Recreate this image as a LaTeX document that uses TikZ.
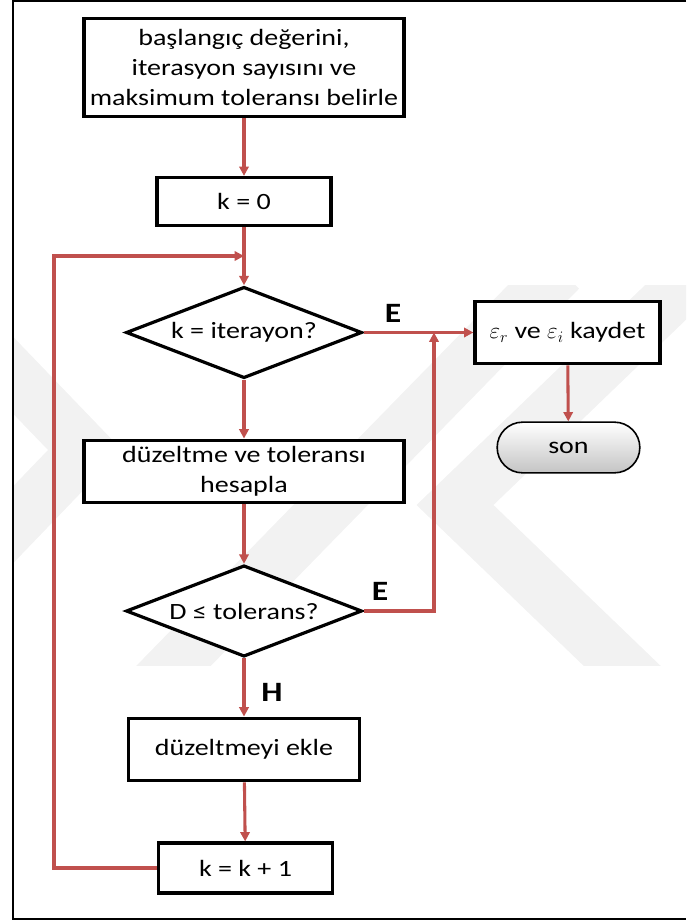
\documentclass[tikz,border=0pt]{standalone}
\usepackage{fontspec}
\setmainfont{Carlito}[FakeStretch=1.2]
\usetikzlibrary{shapes.geometric,arrows.meta}
\definecolor{flowred}{HTML}{C0504D}
\definecolor{markgray}{HTML}{F2F2F2}
\definecolor{endgray}{HTML}{C4C4C4}

\begin{document}
\begin{tikzpicture}[x=0.75pt,y=-0.75pt,
  txt/.style={font=\fontsize{17.5}{22.5}\selectfont},
  stepbox/.style={txt,draw=black,line width=2.4pt,fill=white,align=center,
    inner sep=0pt,rectangle},
  decide/.style={txt,draw=black,line width=2.4pt,fill=white,diamond,
    shape aspect=2.6,inner sep=0pt,minimum width=177pt,minimum height=68.5pt},
  terminal/.style={txt,draw=black,line width=1.2pt,rounded corners=19pt,
    top color=white,bottom color=endgray,inner sep=0pt,
    minimum width=107pt,minimum height=38pt},
  flow/.style={draw=flowred,line width=2.3pt,-{Triangle[length=7pt,width=7pt]}},
  plain/.style={draw=flowred,line width=2.3pt},
  answer/.style={font=\fontsize{21}{24}\selectfont\bfseries},
  band/.style={draw=markgray,line width=40pt,line join=miter}
]
% page size
\useasboundingbox (0,0) rectangle (686,921);

% faint background emblem
\begin{scope}
  \clip (14,285) rectangle (686,665);
  \draw[band] (560,270) -- (150,690);
  \draw[band] (720,250) -- (455,505) -- (720,760);
  \draw[band] (-40,320) -- (85,450) -- (-40,580);
\end{scope}

% outer frame
\draw[line width=1.8pt] (686,1) -- (13,1) -- (13,919) -- (686,919);

% process steps
\node[stepbox,minimum width=240pt,minimum height=74pt] (init) at (244,67.5)
  {başlangıç değerini,\\iterasyon sayısını ve\\maksimum toleransı belirle};
\node[stepbox,minimum width=130.5pt,minimum height=36pt] (k0) at (244,201.5) {k = 0};
\node[decide] (iter) at (244,332.5) {k = iterayon?};
\node[stepbox,minimum width=240pt,minimum height=47pt] (calc) at (244,471.5)
  {düzeltme ve toleransı\\hesapla};
\node[decide] (tol) at (244,611) {D ≤ tolerans?};
\node[stepbox,minimum width=173pt,minimum height=47pt] (add) at (244,749.5) {düzeltmeyi ekle};
\node[stepbox,minimum width=131pt,minimum height=37.5pt] (inc) at (245.5,868) {k = k + 1};
\node[stepbox,minimum width=138.75pt,minimum height=47pt] (save) at (567.5,332.5)
  {$\varepsilon_r$ ve $\varepsilon_i$ kaydet};
\node[terminal] (stop) at (568.5,447.5) {son};

% junction points
\coordinate (merge) at (244,256);
\coordinate (loopL) at (54,256);
\coordinate (loopB) at (54,868);
\coordinate (yes) at (434,332.5);
\coordinate (yesB) at (434,611);

% connectors
\draw[flow] (init) -- (k0);
\draw[flow] (k0) -- (iter);
\draw[flow] (inc.west) -- (loopB) -- (loopL) -- (merge);
\draw[flow] (iter.east) -- (save.west);
\draw[flow] (iter) -- (calc);
\draw[flow] (calc) -- (tol);
\draw[flow] (tol.east) -- (yesB) -- (yes);
\draw[flow] (tol) -- (add);
\draw[flow] (add) -- (inc);
\draw[flow] (save) -- (stop);

% branch labels
\node[answer] (e1) at (393,313) {E};
\node[answer] (e2) at (380,591) {E};
\node[answer] (h1) at (272,692) {H};
\end{tikzpicture}
\end{document}
